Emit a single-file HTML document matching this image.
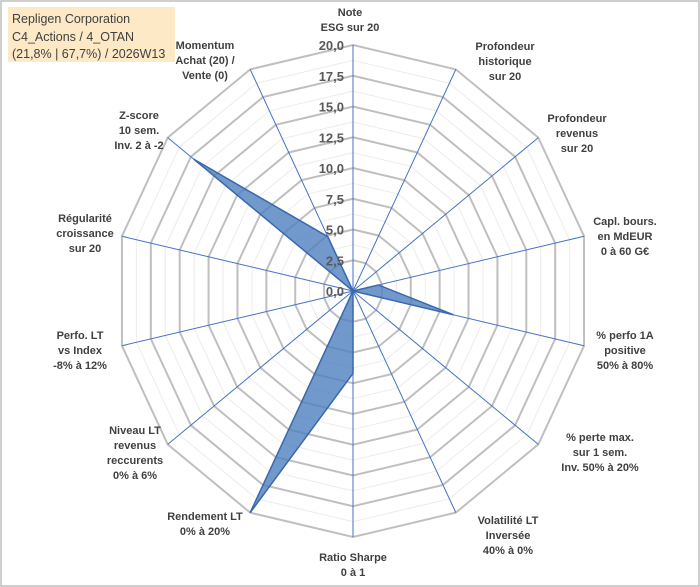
<!DOCTYPE html>
<html><head><meta charset="utf-8"><style>
html,body{margin:0;padding:0;background:#fff;}
svg{display:block;font-family:"Liberation Sans",Arial,sans-serif;}
.lbl{font-size:11px;font-weight:bold;fill:#404040;}
.tick{font-size:13px;font-weight:bold;fill:#595959;}
</style></head><body>
<svg id="chart" width="700" height="587" viewBox="0 0 700 587">
<rect x="1" y="1" width="698" height="585" fill="#fff" stroke="#bfbfbf" stroke-width="1.5"/>
<g id="grid"></g>
<g id="spokes"></g>
<g id="series"></g>
<g id="ticks"></g>
<g id="labels"></g>
<rect x="8" y="7" width="167" height="55" fill="#fde9c6"/>
<text x="12" y="23" font-size="12.5" fill="#404040">Repligen Corporation</text>
<text x="12" y="41" font-size="12.5" fill="#404040">C4_Actions / 4_OTAN</text>
<text x="12" y="58" font-size="12.5" fill="#404040">(21,8% | 67,7%) / 2026W13</text>
</svg>
<script>
const categories = [
 ["Note","ESG sur 20"],
 ["Profondeur","historique","sur 20"],
 ["Profondeur","revenus","sur 20"],
 ["Capl. bours.","en MdEUR","0 à 60 G€"],
 ["% perfo 1A","positive","50% à 80%"],
 ["% perte max.","sur 1 sem.","Inv. 50% à 20%"],
 ["Volatilité LT","Inversée","40% à 0%"],
 ["Ratio Sharpe","0 à 1"],
 ["Rendement LT","0% à 20%"],
 ["Niveau LT","revenus","reccurents","0% à 6%"],
 ["Perfo. LT","vs Index","-8% à 12%"],
 ["Régularité","croissance","sur 20"],
 ["Z-score","10 sem.","Inv. 2 à -2"],
 ["Momentum","Achat (20) /","Vente (0)"]
];
const values = [0, 0, 0, 2.2, 8.7, 0, 0, 6.7, 20, 0, 0, 0, 17.2, 4.9];
const tickLabels = ["0,0","2,5","5,0","7,5","10,0","12,5","15,0","17,5","20,0"];
const tickValues = [0, 2.5, 5, 7.5, 10, 12.5, 15, 17.5, 20];
const maxVal = 20;
const labelPos = [[350,12],[505,46],[577,118],[625,221],[625,335],[600,437],[508,520],[353,557],[205,516],[135,430],[80,335],[85,218],[139,115],[205,45]];

const NS="http://www.w3.org/2000/svg";
const cx=353, cy=291, rx=237, ry=246, n=categories.length;
function pt(i,v){const a=2*Math.PI*i/n;return [cx+Math.sin(a)*rx*v/maxVal, cy-Math.cos(a)*ry*v/maxVal];}
function mk(tag,attrs,parent){const e=document.createElementNS(NS,tag);for(const k in attrs)e.setAttribute(k,attrs[k]);parent.appendChild(e);return e;}
const grid=document.getElementById('grid');
for(let k=1;k<=16;k++){
  const v=k*1.25;
  const pts=[];for(let i=0;i<n;i++)pts.push(pt(i,v).join(','));
  const major=k%2===0;
  const p=mk('polygon',{points:pts.join(' '),fill:'none',stroke:major?'#bfbfbf':'#ececec','stroke-width':major?2:1},grid);
  
  
}
const spokes=document.getElementById('spokes');
for(let i=0;i<n;i++){
  const e=pt(i,maxVal);
  const l=mk('line',{x1:cx,y1:cy,x2:e[0],y2:e[1],stroke:'#4472c4','stroke-width':1},spokes);
  
  
}
const ser=document.getElementById('series');
const sp=[];for(let i=0;i<n;i++)sp.push(pt(i,values[i]).join(','));
const area=mk('polygon',{points:sp.join(' '),fill:'#4f7fbf','fill-opacity':0.8,stroke:'#3a68ad','stroke-width':1.5},ser);


const ticks=document.getElementById('ticks');
tickValues.forEach((v,i)=>{
  const p=pt(0,v);
  const t=mk('text',{x:cx-9,y:p[1]+5,'text-anchor':'end',class:'tick'},ticks);
  t.textContent=tickLabels[i];
  
  
});
const labels=document.getElementById('labels');
categories.forEach((lines,i)=>{
  const [x,y]=labelPos[i];
  const t=mk('text',{x:x,y:y+4,'text-anchor':'middle',class:'lbl'},labels);
  
  
  lines.forEach((s,j)=>{const ts=mk('tspan',{x:x,dy:j?15:0},t);ts.textContent=s;});
});
</script>
</body></html>
